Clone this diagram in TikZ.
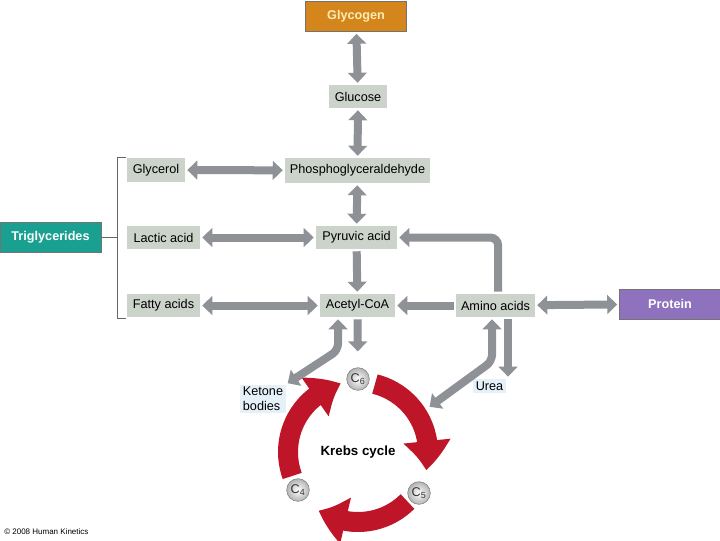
\documentclass[tikz,border=0pt]{standalone}
\usepackage{fontspec}
\setmainfont{Liberation Sans}
\usetikzlibrary{arrows.meta, bending, positioning, shadings}
\definecolor{boxgray}{RGB}{203,211,202}
\definecolor{arrowgray}{RGB}{142,145,150}
\definecolor{glycogenfill}{RGB}{212,134,28}
\definecolor{glycogentext}{RGB}{252,236,180}
\definecolor{trigfill}{RGB}{26,160,144}
\definecolor{proteinfill}{RGB}{142,114,190}
\definecolor{krebsred}{RGB}{190,22,40}
\definecolor{notefill}{RGB}{230,240,248}

\begin{document}
\begin{tikzpicture}[x=0.75pt, y=-0.75pt,
    every node/.style={font=\fontsize{9.5}{11}\selectfont, inner sep=0pt},
    stage/.style={fill=boxgray, minimum height=17.25pt},
    source/.style={draw=black!55, line width=0.4pt, text=white, minimum height=22.5pt, minimum width=75.75pt, font=\fontsize{9.5}{11}\selectfont\bfseries},
    note/.style={fill=notefill, align=left, inner sep=2pt},
    flow/.style={draw=arrowgray, line width=6pt, shorten <=1.5pt, shorten >=1.5pt},
    both/.style={flow, {Triangle[width=14pt,length=7.5pt]}-{Triangle[width=14pt,length=7.5pt]}},
    one/.style={flow, -{Triangle[width=14pt,length=7.5pt]}},
    bracket/.style={draw=black!60, line width=0.5pt},
    krebs/.style={draw=krebsred, line width=15pt, -{Triangle[width=34pt,length=22pt,bend]}},
    ball/.style={circle, draw=black!50, line width=0.4pt, shading=radial, inner color=white, outer color=black!30, minimum size=17pt, text=black!80, font=\fontsize{9.5}{10}\selectfont}]

    \useasboundingbox (0,0) rectangle (720,540);

    % boxes of the main pathway
    \node[source, fill=glycogenfill, text=glycogentext] (glycogen) at (356,16.5) {Glycogen};
    \node[stage, minimum width=43.5pt] (glucose) at (358,96.5) {Glucose};
    \node[stage, minimum width=108.75pt, minimum height=18.75pt] (pgal) at (357.5,170.5) {Phosphoglyceraldehyde};
    \node[stage, minimum width=60.75pt] (pyruvic) at (356.5,237.5) {Pyruvic acid};
    \node[stage, minimum width=56.25pt] (acetyl) at (357.5,305.5) {Acetyl-CoA};

    % boxes on the left
    \node[stage, minimum width=43.5pt, minimum height=18pt] (glycerol) at (156,170) {Glycerol};
    \node[stage, minimum width=54.75pt] (lactic) at (163.5,237.5) {Lactic acid};
    \node[stage, minimum width=54.75pt] (fatty) at (163.5,305.5) {Fatty acids};
    \node[source, fill=trigfill] (trig) at (50.5,237) {Triglycerides};

    % boxes on the right
    \node[stage, minimum width=59.25pt] (amino) at (495.5,305.5) {Amino acids};
    \node[source, fill=proteinfill] (protein) at (670,304) {Protein};
    \node[note] (urea) at (489.5,386) {Urea};
    \node[note] (ketone) at (263,399) {Ketone\\bodies};

    % bracket round the products of the triglycerides
    \coordinate (brack) at (117,237);
    \draw[bracket] (126,157) -- (117,157) -- (117,318) -- (126,318);
    \draw[bracket] (trig.east) -- (brack);

    % arrows of the main pathway
    \draw[both] (glycogen) -- (glucose);
    \draw[both] (glucose) -- (pgal);
    \draw[both] (pgal) -- (pyruvic);
    \draw[one] (pyruvic) -- (acetyl);

    % arrows from the left
    \draw[both] (glycerol) -- (pgal);
    \draw[both] (lactic) -- (pyruvic);
    \draw[both] (fatty) -- (acetyl);

    % arrows from the amino acids
    \draw[both] (amino) -- (protein);
    \draw[one] (amino) -- (acetyl);
    \draw[one, rounded corners=6pt] ([xshift=2pt]amino.north) |- (pyruvic.east);
    \draw[one] ([xshift=9.4pt]amino.south) -- ([xshift=9.4pt]amino.south |- urea.north);

    % Krebs cycle
    \coordinate (kc) at (358,452);
    \coordinate (kin) at (428,408);
    \draw[krebs] (kc) ++(-76:70) arc[start angle=-76, end angle=15, radius=70];
    \draw[krebs] (kc) ++(45:70) arc[start angle=45, end angle=124, radius=70];
    \draw[krebs] (kc) ++(160:70) arc[start angle=160, end angle=256, radius=70];
    \node[ball] (csix) at (358,379) {C\textsubscript{6}};
    \node[ball] (cfive) at (419,493) {C\textsubscript{5}};
    \node[ball] (cfour) at (298,490) {C\textsubscript{4}};
    \node[font=\fontsize{10}{12}\selectfont\bfseries] (krebslabel) at (kc) {Krebs cycle};

    % arrows into the Krebs cycle
    \draw[one, shorten >=12pt] (acetyl) -- (csix);
    \draw[both, rounded corners=5pt] ([xshift=-14.6pt]acetyl.south) -- ++(0,33) -- (ketone.north east);
    \draw[both, rounded corners=5pt] ([xshift=-2.6pt]amino.south) -- ++(0,44) -- (kin);

    % credit line
    \node[anchor=west, font=\fontsize{6}{7}\selectfont] (credit) at (4,532) {\textcopyright{} 2008 Human Kinetics};
\end{tikzpicture}
\end{document}
